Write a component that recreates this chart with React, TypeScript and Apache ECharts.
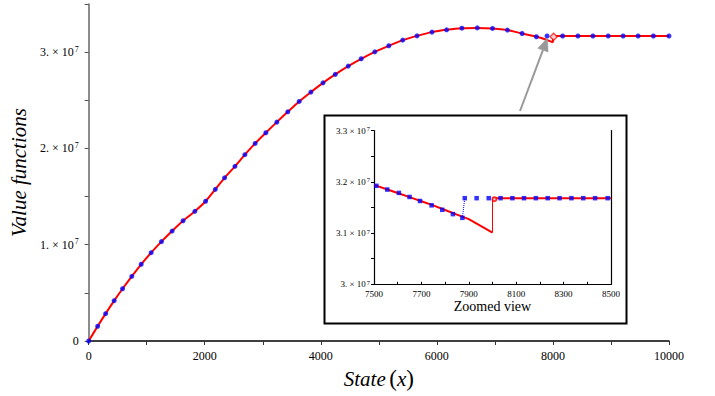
import React, { useEffect, useRef } from "react";
import * as echarts from "echarts";

const SERIF = "'Liberation Serif', 'DejaVu Serif', serif";

// ---- Main chart data ----
const blueX = [0, 155, 292, 440, 584, 743, 905, 1077, 1254, 1438, 1627, 1830, 2015, 2182, 2342, 2521, 2692, 2869, 3053, 3242, 3431, 3628, 3829, 4038, 4249, 4473, 4696, 4931, 5172, 5412, 5658, 5916, 6168, 6431, 6696, 6959, 7216, 7469, 7715, 7899, 8167, 8431, 8689, 8952, 9210, 9467, 9731, 10000];
const blueY = [0, 0.153e7, 0.284e7, 0.419e7, 0.543e7, 0.672e7, 0.797e7, 0.917e7, 1.032e7, 1.142e7, 1.249e7, 1.347e7, 1.451e7, 1.575e7, 1.695e7, 1.814e7, 1.935e7, 2.052e7, 2.163e7, 2.273e7, 2.380e7, 2.488e7, 2.585e7, 2.681e7, 2.769e7, 2.855e7, 2.931e7, 3.003e7, 3.066e7, 3.125e7, 3.169e7, 3.208e7, 3.232e7, 3.249e7, 3.252e7, 3.246e7, 3.229e7, 3.194e7, 3.160e7, 3.168e7, 3.168e7, 3.168e7, 3.168e7, 3.168e7, 3.168e7, 3.168e7, 3.168e7, 3.168e7];

const redX = [0, 155, 292, 440, 584, 743, 905, 1077, 1254, 1438, 1627, 1830, 2015, 2182, 2342, 2521, 2692, 2869, 3053, 3242, 3431, 3628, 3829, 4038, 4249, 4473, 4696, 4931, 5172, 5412, 5658, 5916, 6168, 6431, 6696, 6959, 7216, 7469, 7715, 7850, 7950, 8000];
const redY = [0, 0.153e7, 0.284e7, 0.419e7, 0.543e7, 0.672e7, 0.797e7, 0.917e7, 1.032e7, 1.142e7, 1.249e7, 1.347e7, 1.451e7, 1.575e7, 1.695e7, 1.814e7, 1.935e7, 2.052e7, 2.163e7, 2.273e7, 2.380e7, 2.488e7, 2.585e7, 2.681e7, 2.769e7, 2.855e7, 2.931e7, 3.003e7, 3.066e7, 3.125e7, 3.169e7, 3.208e7, 3.232e7, 3.249e7, 3.252e7, 3.246e7, 3.229e7, 3.194e7, 3.160e7, 3.137e7, 3.114e7, 3.101e7];

const redJumpX = [8000, 8000, 10000];
const redJumpY = [3.101e7, 3.168e7, 3.168e7];

const redMarkX = [8012];
const redMarkY = [3.160e7];

// ---- Inset (zoomed view) data ----
const insetBlueX = [7510, 7556, 7605, 7650, 7694, 7743, 7788, 7833, 7873, 7883, 7933, 7984, 8034, 8084, 8133, 8183, 8233, 8283, 8333, 8383, 8433, 8486];
const insetBlueY = [3.1921e7, 3.1848e7, 3.1783e7, 3.1704e7, 3.1625e7, 3.1540e7, 3.1453e7, 3.1369e7, 3.1296e7, 3.168e7, 3.168e7, 3.168e7, 3.168e7, 3.168e7, 3.168e7, 3.168e7, 3.168e7, 3.168e7, 3.168e7, 3.168e7, 3.168e7, 3.168e7];

const insetBlueJumpX = [7873, 7883];
const insetBlueJumpY = [3.1296e7, 3.168e7];

const insetRedX = [7500, 7550, 7600, 7650, 7700, 7750, 7800, 7850, 7900, 7950, 8000];
const insetRedY = [3.194e7, 3.186e7, 3.178e7, 3.170e7, 3.162e7, 3.154e7, 3.145e7, 3.136e7, 3.127e7, 3.114e7, 3.101e7];

const insetRedJumpX = [8000, 8000];
const insetRedJumpY = [3.101e7, 3.168e7];

const insetRedFlatX = [8000, 8500];
const insetRedFlatY = [3.168e7, 3.168e7];

const insetRedMarkX = [8008];
const insetRedMarkY = [3.166e7];

const pairs = (xs: number[], ys: number[]) => xs.map((x, i) => [x, ys[i]]);

export default function App() {
  const ref = useRef<HTMLDivElement>(null);

  useEffect(() => {
    if (!ref.current) return;
    const chart = echarts.init(ref.current, undefined, { renderer: "svg" });

    const mainRich = {
      b: { fontFamily: SERIF, fontSize: 12, color: "#000", lineHeight: 14 },
      s: { fontFamily: SERIF, fontSize: 8, color: "#000", verticalAlign: "top", lineHeight: 8, padding: [0, 0, 0, 1] },
    };
    const insetRich = {
      b: { fontFamily: SERIF, fontSize: 9, color: "#000", lineHeight: 11 },
      s: { fontFamily: SERIF, fontSize: 6.5, color: "#000", verticalAlign: "top", lineHeight: 6, padding: [0, 0, 0, 1] },
    };

    // arrow geometry (annotation)
    const tip = [547.5, 38];
    const tail = [520, 111];
    const dx = tip[0] - tail[0];
    const dy = tip[1] - tail[1];
    const len = Math.sqrt(dx * dx + dy * dy);
    const ux = dx / len, uy = dy / len;
    const headLen = 13, headHalf = 5.5;
    const bx = tip[0] - headLen * ux, by = tip[1] - headLen * uy;
    const px = -uy, py = ux;

    chart.setOption({
      animation: false,
      backgroundColor: "#fff",
      grid: [
        { left: 87, top: 4, width: 582, height: 337, containLabel: false },
        { left: 374, top: 130.5, width: 237, height: 153.8, containLabel: false },
      ],
      xAxis: [
        {
          type: "value",
          gridIndex: 0,
          min: 0,
          max: 10000,
          interval: 1000,
          axisLine: { show: true, onZero: false, lineStyle: { color: "#000", width: 1.5 } },
          axisTick: { show: true, length: 4, lineStyle: { color: "#333", width: 1 } },
          axisLabel: {
            formatter: (v: number) => (v % 2000 === 0 ? String(v) : ""),
            fontFamily: SERIF,
            fontSize: 12,
            color: "#000",
            margin: 9,
          },
          splitLine: { show: false },
          name: "{i|State}{sp| }{p|(}{i|x}{p|)}",
          nameLocation: "middle",
          nameGap: 26,
          nameTextStyle: {
            rich: {
              i: { fontFamily: SERIF, fontStyle: "italic", fontSize: 21, color: "#000" },
              sp: { fontFamily: SERIF, fontSize: 14, color: "#000" },
              p: { fontFamily: SERIF, fontSize: 23, color: "#000" },
            },
          },
        },
        {
          type: "value",
          gridIndex: 1,
          min: 7500,
          max: 8500,
          interval: 100,
          axisLine: { show: true, onZero: false, lineStyle: { color: "#000", width: 1.2 } },
          axisTick: { show: true, inside: true, length: 2.5, lineStyle: { color: "#000", width: 1 } },
          axisLabel: {
            formatter: (v: number) => ((v - 7500) % 200 === 0 ? String(v) : ""),
            fontFamily: SERIF,
            fontSize: 9,
            color: "#000",
            margin: 5,
          },
          splitLine: { show: false },
          name: "Zoomed view",
          nameLocation: "middle",
          nameGap: 14,
          nameTextStyle: { fontFamily: SERIF, fontSize: 14, color: "#000" },
        },
      ],
      yAxis: [
        {
          type: "value",
          gridIndex: 0,
          min: 0,
          max: 3.5e7,
          interval: 0.5e7,
          axisLine: { show: true, onZero: false, lineStyle: { color: "#666", width: 1.5 } },
          axisTick: { show: true, length: 4, lineStyle: { color: "#555", width: 1 } },
          axisLabel: {
            formatter: (v: number) => {
              const m = Math.round(v / 1e6);
              if (m % 10 !== 0) return "";
              if (m === 0) return "{b|0}";
              return `{b|${m / 10}. × 10}{s|7}`;
            },
            rich: mainRich,
            margin: 10,
          },
          splitLine: { show: false },
          name: "Value functions",
          nameLocation: "middle",
          nameGap: 56,
          nameRotate: 90,
          nameTextStyle: { fontFamily: SERIF, fontStyle: "italic", fontSize: 21, color: "#000" },
        },
        {
          type: "value",
          gridIndex: 1,
          min: 3.0e7,
          max: 3.3e7,
          interval: 0.05e7,
          axisLine: { show: true, onZero: false, lineStyle: { color: "#000", width: 1.2 } },
          axisTick: { show: true, length: 3, lineStyle: { color: "#000", width: 1 } },
          axisLabel: {
            formatter: (v: number) => {
              const m = Math.round(v / 1e5);
              if (m % 10 !== 0) return "";
              const mant = m / 100;
              const txt = Number.isInteger(mant) ? `${mant}.` : String(mant);
              return `{b|${txt} × 10}{s|7}`;
            },
            rich: insetRich,
            margin: 4,
          },
          splitLine: { show: false },
        },
        {
          type: "value",
          gridIndex: 1,
          position: "right",
          min: 0,
          max: 1,
          axisLine: { show: true, onZero: false, lineStyle: { color: "#000", width: 1.2 } },
          axisTick: { show: false },
          axisLabel: { show: false },
          splitLine: { show: false },
        },
      ],
      series: [
        {
          type: "line",
          xAxisIndex: 0,
          yAxisIndex: 0,
          data: pairs(redX, redY),
          showSymbol: false,
          smooth: 0.3,
          lineStyle: { color: "#ff0000", width: 2 },
          z: 2,
        },
        {
          type: "line",
          xAxisIndex: 0,
          yAxisIndex: 0,
          data: pairs(redJumpX, redJumpY),
          showSymbol: false,
          lineStyle: { color: "#ff0000", width: 2 },
          z: 2,
        },
        {
          type: "scatter",
          xAxisIndex: 0,
          yAxisIndex: 0,
          data: pairs(redMarkX, redMarkY),
          symbol: "diamond",
          symbolSize: 7,
          itemStyle: { color: "#fff", borderColor: "#ff0000", borderWidth: 1.3 },
          z: 3,
        },
        {
          type: "scatter",
          xAxisIndex: 0,
          yAxisIndex: 0,
          data: pairs(blueX, blueY),
          symbol: "circle",
          symbolSize: 5,
          itemStyle: { color: "#0000ff" },
          z: 4,
        },
        {
          type: "line",
          xAxisIndex: 1,
          yAxisIndex: 1,
          data: pairs(insetRedX, insetRedY),
          showSymbol: false,
          lineStyle: { color: "#ff0000", width: 2 },
          z: 2,
        },
        {
          type: "line",
          xAxisIndex: 1,
          yAxisIndex: 1,
          data: pairs(insetRedJumpX, insetRedJumpY),
          showSymbol: false,
          lineStyle: { color: "#ff0000", width: 1 },
          z: 2,
        },
        {
          type: "line",
          xAxisIndex: 1,
          yAxisIndex: 1,
          data: pairs(insetRedFlatX, insetRedFlatY),
          showSymbol: false,
          lineStyle: { color: "#ff0000", width: 2 },
          z: 2,
        },
        {
          type: "scatter",
          xAxisIndex: 1,
          yAxisIndex: 1,
          data: pairs(insetRedMarkX, insetRedMarkY),
          symbol: "emptyCircle",
          symbolSize: 4,
          itemStyle: { color: "#ff0000", borderColor: "#ff0000", borderWidth: 1 },
          z: 3,
        },
        {
          type: "line",
          xAxisIndex: 1,
          yAxisIndex: 1,
          data: pairs(insetBlueJumpX, insetBlueJumpY),
          showSymbol: false,
          lineStyle: { color: "#0000ff", width: 1, type: "dotted" },
          z: 3,
        },
        {
          type: "scatter",
          xAxisIndex: 1,
          yAxisIndex: 1,
          data: pairs(insetBlueX, insetBlueY),
          symbol: "rect",
          symbolSize: 4.5,
          itemStyle: { color: "#0000ff" },
          z: 4,
        },
      ],
      graphic: [
        {
          type: "rect",
          z: 1,
          shape: { x: 324.5, y: 115.5, width: 302, height: 208 },
          style: { fill: "rgba(255,255,255,0)", stroke: "#000", lineWidth: 2 },
          silent: true,
        },
        {
          type: "line",
          z: 100,
          shape: { x1: tail[0], y1: tail[1], x2: bx, y2: by },
          style: { stroke: "#999", lineWidth: 2 },
          silent: true,
        },
        {
          type: "polygon",
          z: 100,
          shape: {
            points: [
              [tip[0], tip[1]],
              [bx + headHalf * px, by + headHalf * py],
              [bx - headHalf * px, by - headHalf * py],
            ],
          },
          style: { fill: "#999", stroke: "#999", lineWidth: 0.5 },
          silent: true,
        },
      ],
    });

    return () => chart.dispose();
  }, []);

  return (
    <div
      ref={ref}
      style={{ position: "fixed", left: 0, top: 0, width: 715, height: 396, background: "#fff" }}
    />
  );
}
